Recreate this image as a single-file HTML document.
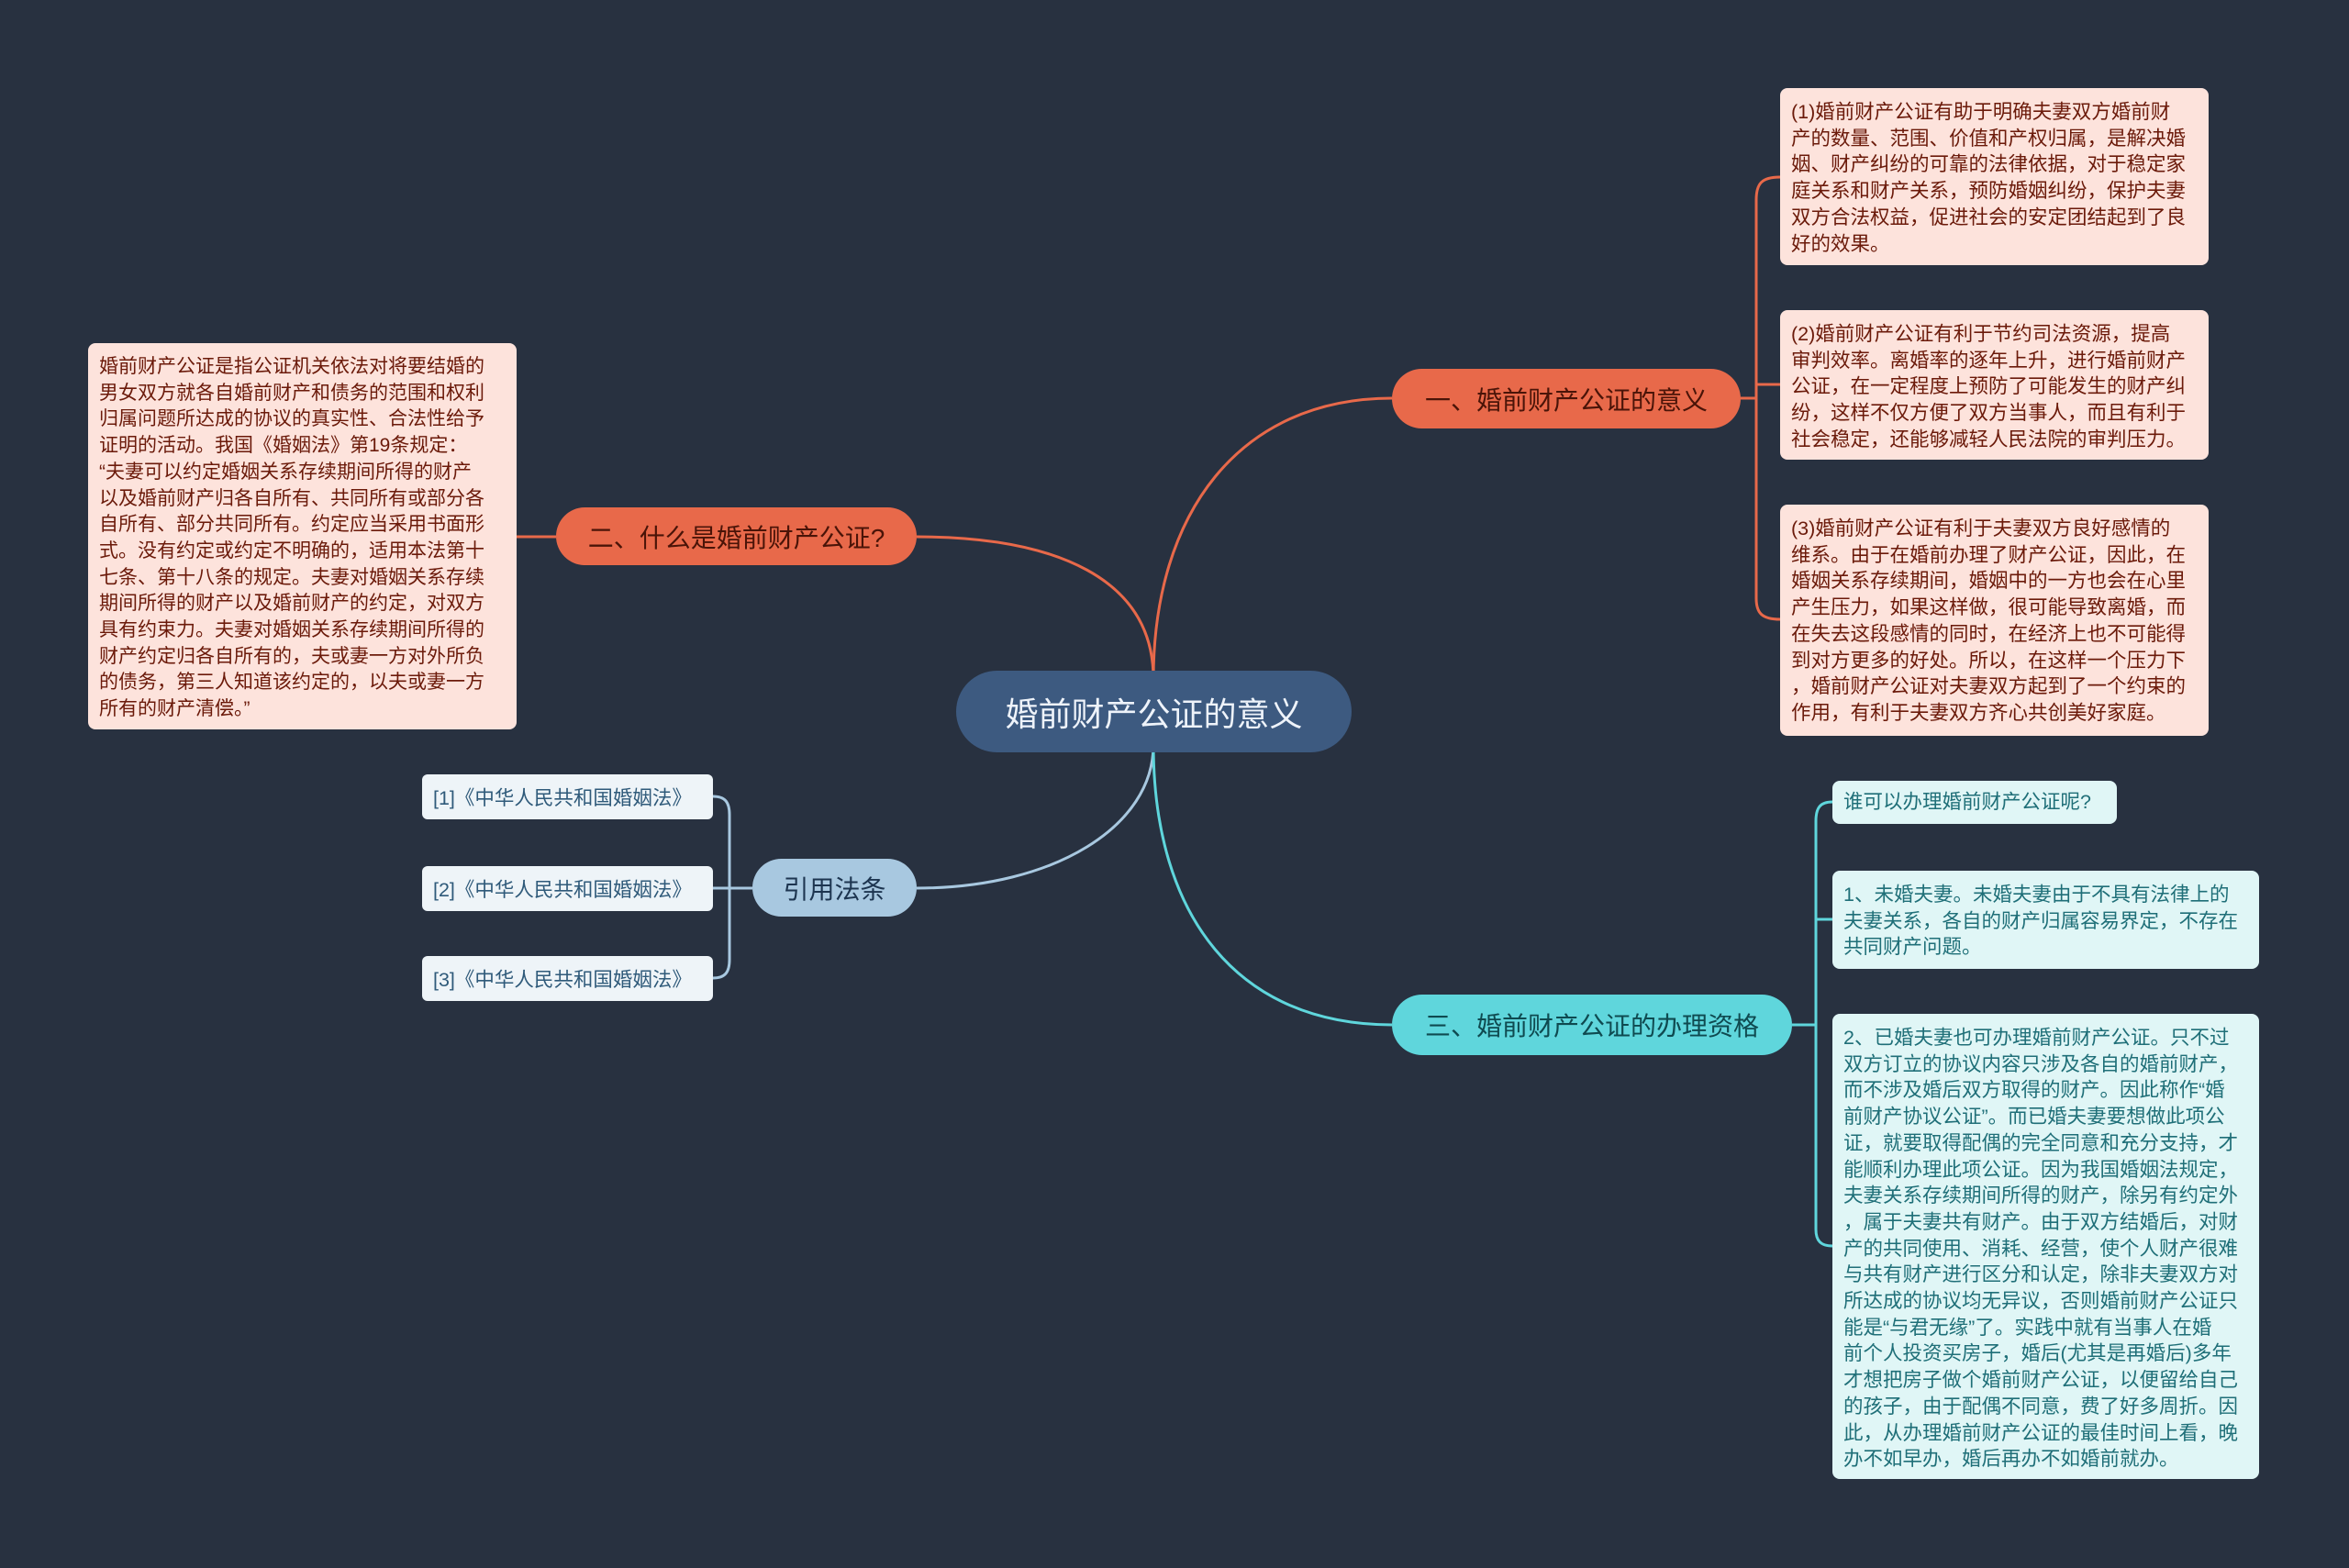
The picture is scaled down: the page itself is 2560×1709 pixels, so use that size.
<!DOCTYPE html>
<html><head><meta charset="utf-8"><style>
html,body{margin:0;padding:0;}
body{width:2560px;height:1709px;background:#283140;position:relative;overflow:hidden;font-family:"Liberation Sans","Noto Sans CJK SC",sans-serif;}
.a{position:absolute;box-sizing:border-box;}
.pill{display:flex;align-items:center;justify-content:center;border-radius:34px;white-space:nowrap;}
.box{border-radius:8px;font-size:21.5px;line-height:28.7px;padding:12px 10px 8px 12px;white-space:nowrap;}
.red{background:#fde3dc;color:#6b1a0a;}
.cy{background:#e0f6f6;color:#1f6f78;}
.ref{background:#eef4f8;color:#2f5a7a;border-radius:6px;font-size:21.5px;display:flex;align-items:center;padding-left:12px;white-space:nowrap;}
</style></head><body>
<svg class="a" style="left:0;top:0" width="2560" height="1709" fill="none">
<g stroke="#e8694a" stroke-width="3">
<path d="M1257,740 C1257,560 1350,434 1517,434"/>
<path d="M1257,740 C1257,630 1150,585 999,585"/>
<path d="M606,585 L563,585"/>
<path d="M1897,434 L1914,434"/>
<path d="M1940,193 C1920,193 1914,200 1914,218 L1914,652 C1914,668 1920,675 1940,675"/>
<path d="M1914,419 L1940,419"/>
</g>
<g stroke="#a8c8e0" stroke-width="3">
<path d="M1257,812 C1257,900 1150,968 999,968"/>
<path d="M820,968 L795,968"/>
<path d="M777,868 C790,868 795,874 795,888 L795,1046 C795,1060 790,1066 777,1066"/>
<path d="M777,968 L795,968"/>
</g>
<g stroke="#5fd6dc" stroke-width="3">
<path d="M1257,812 C1257,1000 1350,1117 1517,1117"/>
<path d="M1953,1117 L1979,1117"/>
<path d="M1997,874 C1984,874 1979,880 1979,895 L1979,1340 C1979,1352 1984,1358 1997,1358"/>
<path d="M1979,1002 L1997,1002"/>
</g>
</svg>

<div class="a pill" style="left:1042px;top:731px;width:431px;height:89px;background:#3d5a80;color:#eef3fa;font-size:36px;border-radius:45px;">婚前财产公证的意义</div>
<div class="a pill" style="left:1517px;top:402px;width:380px;height:65px;background:#e8694a;color:#4a1408;font-size:28px;">一、婚前财产公证的意义</div>
<div class="a pill" style="left:606px;top:553px;width:393px;height:63px;background:#e8694a;color:#4a1408;font-size:28px;">二、什么是婚前财产公证?</div>
<div class="a pill" style="left:820px;top:936px;width:179px;height:63px;background:#a8c8e0;color:#1d3550;font-size:28px;">引用法条</div>
<div class="a pill" style="left:1517px;top:1084px;width:436px;height:66px;background:#5fd6dc;color:#0f4a50;font-size:28px;">三、婚前财产公证的办理资格</div>

<div class="a box red" style="left:1940px;top:96px;width:467px;height:193px;">(1)婚前财产公证有助于明确夫妻双方婚前财<br>产的数量、范围、价值和产权归属，是解决婚<br>姻、财产纠纷的可靠的法律依据，对于稳定家<br>庭关系和财产关系，预防婚姻纠纷，保护夫妻<br>双方合法权益，促进社会的安定团结起到了良<br>好的效果。</div>
<div class="a box red" style="left:1940px;top:338px;width:467px;height:163px;">(2)婚前财产公证有利于节约司法资源，提高<br>审判效率。离婚率的逐年上升，进行婚前财产<br>公证，在一定程度上预防了可能发生的财产纠<br>纷，这样不仅方便了双方当事人，而且有利于<br>社会稳定，还能够减轻人民法院的审判压力。</div>
<div class="a box red" style="left:1940px;top:550px;width:467px;height:252px;">(3)婚前财产公证有利于夫妻双方良好感情的<br>维系。由于在婚前办理了财产公证，因此，在<br>婚姻关系存续期间，婚姻中的一方也会在心里<br>产生压力，如果这样做，很可能导致离婚，而<br>在失去这段感情的同时，在经济上也不可能得<br>到对方更多的好处。所以，在这样一个压力下<br>，婚前财产公证对夫妻双方起到了一个约束的<br>作用，有利于夫妻双方齐心共创美好家庭。</div>

<div class="a box red" style="left:96px;top:374px;width:467px;height:421px;padding-left:12px;font-size:21px;">婚前财产公证是指公证机关依法对将要结婚的<br>男女双方就各自婚前财产和债务的范围和权利<br>归属问题所达成的协议的真实性、合法性给予<br>证明的活动。我国《婚姻法》第19条规定：<br>“夫妻可以约定婚姻关系存续期间所得的财产<br>以及婚前财产归各自所有、共同所有或部分各<br>自所有、部分共同所有。约定应当采用书面形<br>式。没有约定或约定不明确的，适用本法第十<br>七条、第十八条的规定。夫妻对婚姻关系存续<br>期间所得的财产以及婚前财产的约定，对双方<br>具有约束力。夫妻对婚姻关系存续期间所得的<br>财产约定归各自所有的，夫或妻一方对外所负<br>的债务，第三人知道该约定的，以夫或妻一方<br>所有的财产清偿。”</div>

<div class="a ref" style="left:460px;top:844px;width:317px;height:49px;">[1]《中华人民共和国婚姻法》</div>
<div class="a ref" style="left:460px;top:944px;width:317px;height:49px;">[2]《中华人民共和国婚姻法》</div>
<div class="a ref" style="left:460px;top:1042px;width:317px;height:49px;">[3]《中华人民共和国婚姻法》</div>

<div class="a box cy" style="left:1997px;top:851px;width:310px;height:47px;padding-top:9px;">谁可以办理婚前财产公证呢?</div>
<div class="a box cy" style="left:1997px;top:949px;width:465px;height:107px;">1、未婚夫妻。未婚夫妻由于不具有法律上的<br>夫妻关系，各自的财产归属容易界定，不存在<br>共同财产问题。</div>
<div class="a box cy" style="left:1997px;top:1105px;width:465px;height:507px;">2、已婚夫妻也可办理婚前财产公证。只不过<br>双方订立的协议内容只涉及各自的婚前财产，<br>而不涉及婚后双方取得的财产。因此称作“婚<br>前财产协议公证”。而已婚夫妻要想做此项公<br>证，就要取得配偶的完全同意和充分支持，才<br>能顺利办理此项公证。因为我国婚姻法规定，<br>夫妻关系存续期间所得的财产，除另有约定外<br>，属于夫妻共有财产。由于双方结婚后，对财<br>产的共同使用、消耗、经营，使个人财产很难<br>与共有财产进行区分和认定，除非夫妻双方对<br>所达成的协议均无异议，否则婚前财产公证只<br>能是“与君无缘”了。实践中就有当事人在婚<br>前个人投资买房子，婚后(尤其是再婚后)多年<br>才想把房子做个婚前财产公证，以便留给自己<br>的孩子，由于配偶不同意，费了好多周折。因<br>此，从办理婚前财产公证的最佳时间上看，晚<br>办不如早办，婚后再办不如婚前就办。</div>
</body></html>
